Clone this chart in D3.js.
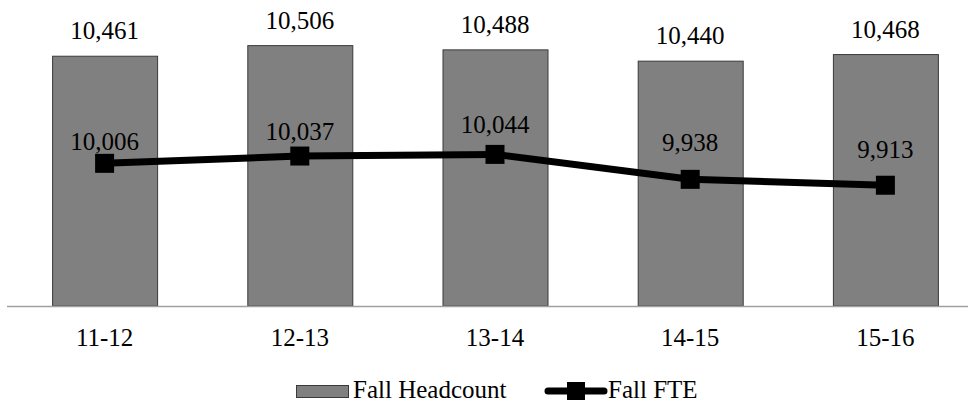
<!DOCTYPE html>
<html><head><meta charset="utf-8">
<script src="https://cdn.jsdelivr.net/npm/d3@7"></script>
<style>
html,body{margin:0;padding:0;background:#fff;}
svg{display:block;}
svg text{font-family:'Liberation Serif','Times New Roman',Times,'Nimbus Roman','DejaVu Serif',serif;}
</style></head>
<body>
<svg id="chart" width="968" height="405"></svg>
<script>
const categories = ["11-12", "12-13", "13-14", "14-15", "15-16"];
const headcount = [10461, 10506, 10488, 10440, 10468];
const fte = [10006, 10037, 10044, 9938, 9913];
const yDomain = [9400, 10600];
// label vertical offsets (layout only)
const fteLabelDy = [-13, -16, -21, -28, -27];

const FONT = "'Liberation Serif','Times New Roman',Times,'Nimbus Roman','DejaVu Serif',serif";
const svg = d3.select("#chart");
const x = d3.scaleBand().domain(categories).range([7, 983]).padding(0);
const barW = 105;
const y = d3.scaleLinear().domain(yDomain).range([306, 23.5]);
const fmt = d3.format(",");
const cx = c => x(c) + x.bandwidth() / 2;

// bars
svg.selectAll("rect.bar").data(categories).enter().append("rect")
  .attr("class", "bar")
  .attr("x", c => cx(c) - barW / 2 + 0.5)
  .attr("width", barW)
  .attr("y", (c, i) => y(headcount[i]))
  .attr("height", (c, i) => y(yDomain[0]) - y(headcount[i]))
  .attr("fill", "#808080").attr("stroke", "#3a3a3a").attr("stroke-width", 1);

// axis line
svg.append("line").attr("x1", 7).attr("x2", 968)
  .attr("y1", y(yDomain[0]) + 0.5).attr("y2", y(yDomain[0]) + 0.5)
  .attr("stroke", "#a0a0a0").attr("stroke-width", 1.3);

// category labels
const xAxis = d3.axisBottom(x).tickSize(0).tickPadding(0);
const ax = svg.append("g").attr("transform", `translate(0,${y(yDomain[0])})`).call(xAxis)
  .attr("font-family", FONT).attr("font-size", 25);
ax.select(".domain").remove();
ax.selectAll("text").attr("dy", null).attr("y", 40).attr("fill", "#000");

// bar labels
svg.selectAll("text.hl").data(categories).enter().append("text")
  .attr("x", c => cx(c)).attr("y", (c, i) => y(headcount[i]) - 17)
  .attr("text-anchor", "middle").attr("font-family", FONT).attr("font-size", 25)
  .text((c, i) => fmt(headcount[i]));

// line
const line = d3.line().x((d, i) => cx(categories[i])).y(d => y(d));
svg.append("path").datum(fte).attr("d", line)
  .attr("fill", "none").attr("stroke", "#000").attr("stroke-width", 7).attr("stroke-linejoin", "round");
const ms = 19;
svg.selectAll("rect.mk").data(fte).enter().append("rect")
  .attr("x", (d, i) => cx(categories[i]) - ms / 2).attr("y", d => y(d) - ms / 2)
  .attr("width", ms).attr("height", ms).attr("fill", "#000");

svg.selectAll("text.fl").data(fte).enter().append("text")
  .attr("x", (d, i) => cx(categories[i])).attr("y", (d, i) => y(d) + fteLabelDy[i])
  .attr("text-anchor", "middle").attr("font-family", FONT).attr("font-size", 25)
  .text(d => fmt(d));

// legend
const lg = svg.append("g").attr("font-family", FONT).attr("font-size", 25);
lg.append("rect").attr("x", 296.5).attr("y", 385.5).attr("width", 52).attr("height", 12)
  .attr("fill", "#808080").attr("stroke", "#3a3a3a").attr("stroke-width", 1);
lg.append("text").attr("x", 353).attr("y", 398).text("Fall Headcount");
lg.append("line").attr("x1", 548).attr("x2", 604).attr("y1", 391).attr("y2", 391)
  .attr("stroke", "#000").attr("stroke-width", 7).attr("stroke-linecap", "round");
lg.append("rect").attr("x", 567).attr("y", 382).attr("width", 18).attr("height", 18).attr("fill", "#000");
lg.append("text").attr("x", 608).attr("y", 398).text("Fall FTE");
</script>
</body></html>
